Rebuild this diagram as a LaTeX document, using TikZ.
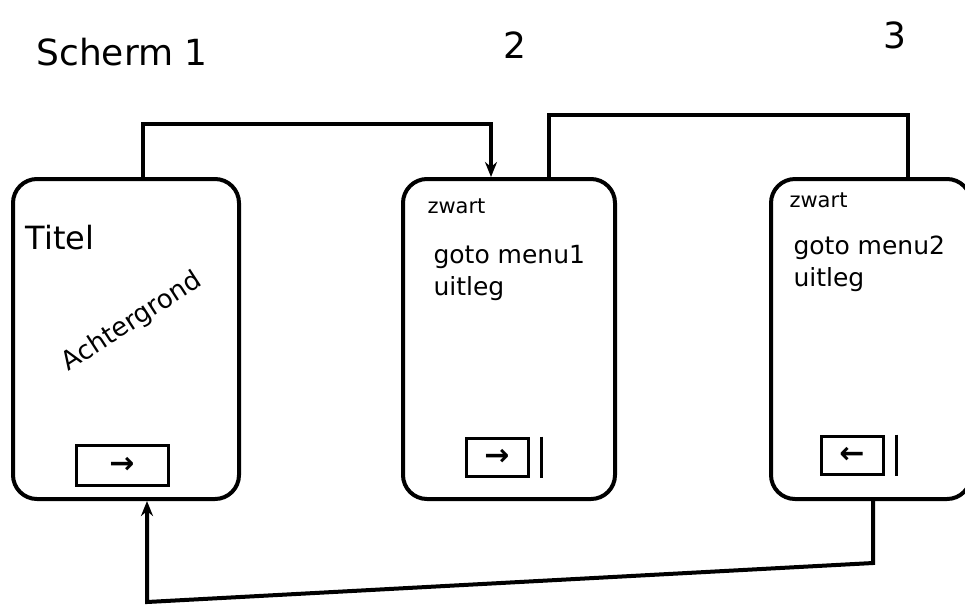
\documentclass[tikz,border=0pt]{standalone}
\usepackage{fontspec}
\setmainfont{DejaVu Sans}
\usetikzlibrary{positioning, arrows.meta}

\begin{document}
\begin{tikzpicture}[
      x=1pt, y=-1pt,
      node distance=160pt,
      >={Stealth[length=15pt, width=12pt]},
      screen/.style={rectangle, rounded corners=24pt, draw=black, line width=4pt,
                     minimum width=226pt, minimum height=320pt},
      title/.style={font=\fontsize{36}{40}\selectfont},
      note/.style={font=\fontsize{25}{32}\selectfont, align=left},
      tag/.style={font=\fontsize{21}{23}\selectfont},
      button/.style={rectangle, draw=black, line width=3pt, minimum width=62pt,
                     minimum height=38pt, font=\fontsize{30}{30}\selectfont\bfseries},
      link/.style={line width=4pt}
  ]
  \useasboundingbox (0,0) rectangle (965,606);

  % the three screens
  \node[screen]                                   (s1) at (126,339) {};
  \node[screen, minimum width=212pt, right=of s1]  (s2) {};
  \node[screen, minimum width=200pt, right=152pt of s2] (s3) {};

  \node[title] (t1) at (122,52) {Scherm 1};
  \node[title] (t2) at (515,45) {2};
  \node[title] (t3) at (895,35) {3};

  % screen 1
  \node[note, font=\fontsize{32}{36}\selectfont, anchor=west] (ti) at (22,238) {Titel};
  \node[note, font=\fontsize{26}{30}\selectfont, rotate=33] (ag) at (132,322) {Achtergrond};
  \node[button, minimum width=92pt, minimum height=40pt] (b1) at (122,465) {→};

  % screen 2
  \node[tag, anchor=west] (z2) at (424,206) {zwart};
  \node[note, anchor=north west] (m2) at (430,242) {goto menu1\\uitleg};
  \node[button] (b2) at (497,457) {→};
  \draw[line width=3pt] ([xshift=12pt]b2.north east) -- ([xshift=12pt]b2.south east);

  % screen 3
  \node[tag, anchor=west] (z3) at (786,200) {zwart};
  \node[note, anchor=north west] (m3) at (790,232) {goto menu2\\uitleg};
  \node[button] (b3) at (852,455) {←};
  \draw[line width=3pt] ([xshift=12pt]b3.north east) -- ([xshift=12pt]b3.south east);

  % links between the screens
  \draw[link, ->] ([xshift=17pt]s1.north) -- ++(0,-53) -| ([xshift=-18pt]s2.north);
  \draw[link] ([xshift=40pt]s2.north) -- ++(0,-62) -| ([xshift=37pt]s3.north);

  % back to the start
  \coordinate (back) at ([xshift=21pt, yshift=-101pt]s1.south);
  \draw[link, ->] ([xshift=2pt]s3.south) -- ++(0,62) -- (back) -- ([xshift=21pt]s1.south);
\end{tikzpicture}
\end{document}
